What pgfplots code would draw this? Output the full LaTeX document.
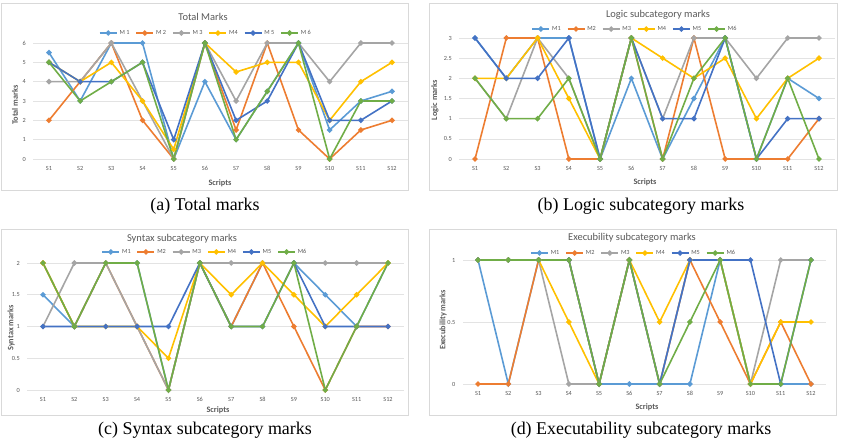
\documentclass[border=0pt]{standalone}
\usepackage{pgfplots}
\pgfplotsset{compat=1.18}
\usepackage{pgfplotstable}
\usepackage{fontspec}
\setmainfont{Liberation Serif}
\newfontfamily\chartfont{Carlito}

\definecolor{cM1}{HTML}{5B9BD5}
\definecolor{cM2}{HTML}{ED7D31}
\definecolor{cM3}{HTML}{A5A5A5}
\definecolor{cM4}{HTML}{FFC000}
\definecolor{cM5}{HTML}{4472C4}
\definecolor{cM6}{HTML}{70AD47}
\definecolor{txt}{HTML}{595959}
\definecolor{gridc}{HTML}{E3E3E3}
\definecolor{framec}{HTML}{D9D9D9}

% marks per script (S1..S12) for each marker M1..M6
\pgfplotstableread{
s M1  M2  M3 M4  M5 M6
1 5.5 2   4  5   5  5
2 3   4   4  4   4  3
3 6   6   6  5   4  4
4 6   2   3  3   5  5
5 0   0   0  0.5 1  0
6 4   6   6  6   6  6
7 1   1.5 3  4.5 2  1
8 3.5 6   6  5   3  3.5
9 6   1.5 6  5   6  6
10 1.5 0  4  2   2  0
11 3   1.5 6 4   2  3
12 3.5 2   6 5   3  3
}\totaltab

\pgfplotstableread{
s M1  M2 M3 M4  M5 M6
1 3   0  2  2   3  2
2 2   3  1  2   2  1
3 3   3  3  3   2  1
4 3   0  2  1.5 3  2
5 0   0  0  0   0  0
6 2   3  3  3   3  3
7 0   0  1  2.5 1  0
8 1.5 3  3  2   1  2
9 3   0  3  2.5 3  3
10 0  0  2  1   0  0
11 2  0  3  2   1  2
12 1.5 1 3  2.5 1  0
}\logictab

\pgfplotstableread{
s M1  M2 M3 M4  M5 M6
1 1.5 2  1  2   1  2
2 1   1  2  1   1  1
3 2   2  2  1   1  2
4 2   1  1  1   1  2
5 0   0  0  0.5 1  0
6 2   2  2  2   2  2
7 1   1  2  1.5 1  1
8 2   2  2  2   1  1
9 2   1  2  1.5 2  2
10 1.5 0 2  1   1  0
11 1  1  2  1.5 1  1
12 2  1  2  2   1  2
}\syntaxtab

\pgfplotstableread{
s M1 M2  M3 M4  M5 M6
1 1  0   1  1   1  1
2 0  0   1  1   1  1
3 1  1   1  1   1  1
4 1  1   0  0.5 1  1
5 0  0   0  0   0  0
6 0  1   1  1   1  1
7 0  0   0  0.5 0  0
8 0  1   1  1   1  0.5
9 1  0.5 1  1   1  1
10 0 0   0  0   1  0
11 0 0.5 1  0.5 0  0
12 0 0   1  0.5 1  1
}\exectab

\pgfplotsset{
  panel/.style={
    scale only axis,
    xmin=0.5, xmax=12.5, ymin=0,
    xtick={1,...,12},
    xticklabels={S1,S2,S3,S4,S5,S6,S7,S8,S9,S10,S11,S12},
    axis line style={draw=none},
    tick style={draw=none},
    ymajorgrids,
    major grid style={draw=gridc, line width=0.6bp},
    ticklabel style={font=\chartfont\fontsize{6.3}{7}\selectfont, text=txt},
    /pgf/number format/assume math mode=true,
    xticklabel style={yshift=-4bp},
    yticklabel style={xshift=-4bp},
    clip=false,
    legend columns=6,
    legend style={draw=none, fill=none, anchor=center,
      font=\chartfont\fontsize{6.3}{7}\selectfont, text=txt,
      /tikz/every even column/.append style={column sep=4bp}},
    every axis plot/.append style={line width=1.6bp, mark=*,
      mark size=1.8bp, mark options={solid}},
  },
}

\newcommand{\sixseries}[1]{%
  \addplot[cM1] table[x=s, y=M1] {#1};
  \addplot[cM2] table[x=s, y=M2] {#1};
  \addplot[cM3] table[x=s, y=M3] {#1};
  \addplot[cM4] table[x=s, y=M4] {#1};
  \addplot[cM5] table[x=s, y=M5] {#1};
  \addplot[cM6] table[x=s, y=M6] {#1};
}

\begin{document}
\begin{tikzpicture}[x=1bp, y=1bp]
\path[use as bounding box] (0,0) rectangle (841,440);

% chart frames
\draw[framec, line width=0.7bp] (1,250) rectangle (408,437);
\draw[framec, line width=0.7bp] (429,250) rectangle (837,437);
\draw[framec, line width=0.7bp] (1,25) rectangle (408,211);
\draw[framec, line width=0.7bp] (429,25) rectangle (836,211);

% (a) total marks
\begin{axis}[panel, at={(33.4bp,281bp)}, anchor=south west,
  width=374.2bp, height=116bp, ymax=6, ytick={0,1,...,6},
  legend style={at={(0.461,1.086)}}]
  \sixseries{\totaltab}
  \legend{M 1, M 2, M 3, M4, M 5, M 6}
\end{axis}

% (b) logic
\begin{axis}[panel, at={(459.4bp,281bp)}, anchor=south west,
  width=375.2bp, height=121bp, ymax=3, ytick={0,0.5,...,3},
  legend style={at={(0.468,1.074)}}]
  \sixseries{\logictab}
  \legend{M1, M2, M3, M4, M5, M6}
\end{axis}

% (c) syntax
\begin{axis}[panel, at={(27.3bp,50bp)}, anchor=south west,
  width=376.4bp, height=127bp, ymax=2, ytick={0,0.5,...,2},
  legend style={at={(0.472,1.087)}}]
  \sixseries{\syntaxtab}
  \legend{M1, M2, M3, M4, M5, M6}
\end{axis}

% (d) executability
\begin{axis}[panel, at={(462.9bp,56bp)}, anchor=south west,
  width=363.2bp, height=124bp, ymax=1, ytick={0,0.5,1},
  legend style={at={(0.470,1.056)}}]
  \sixseries{\exectab}
  \legend{M1, M2, M3, M4, M5, M6}
\end{axis}

% chart titles
\begin{scope}[every node/.style={font=\chartfont\fontsize{10.5}{12}\selectfont, text=txt}]
  \node at (203,423) {Total Marks};
  \node at (658,425) {Logic subcategory marks};
  \node at (182,201) {Syntax subcategory marks};
  \node at (632,202) {Execubility subcategory marks};
\end{scope}

% axis labels
\begin{scope}[every node/.style={font=\chartfont\bfseries\fontsize{8.3}{9}\selectfont, text=txt}]
  \node at (220,257) {Scripts};
  \node at (645,258) {Scripts};
  \node at (218,30) {Scripts};
  \node at (647,33) {Scripts};
  \node[rotate=90] at (15,335) {Total marks};
  \node[rotate=90] at (435,340) {Logic marks};
  \node[rotate=90] at (11,112) {Syntax marks};
  \node[rotate=90] at (443,120) {Execubility marks};
\end{scope}

% sub-figure captions
\begin{scope}[every node/.style={font=\fontsize{18}{21}\selectfont}]
  \node at (205,234) {(a) Total marks};
  \node at (641,234) {(b) Logic subcategory marks};
  \node at (205,10) {(c) Syntax subcategory marks};
  \node at (641,10) {(d) Executability subcategory marks};
\end{scope}
\end{tikzpicture}
\end{document}
